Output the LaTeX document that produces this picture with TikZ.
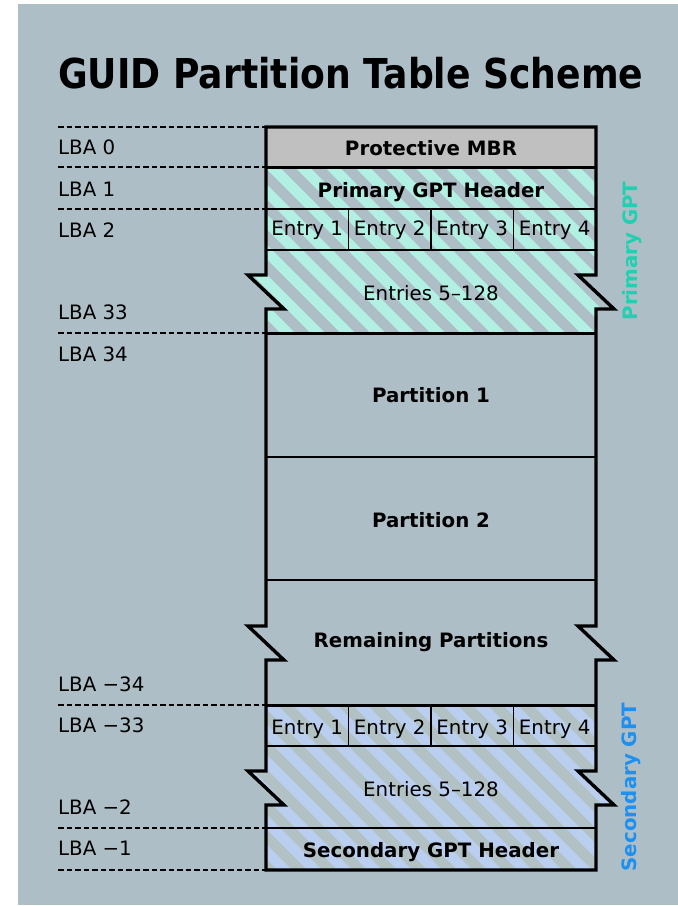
\documentclass[tikz,border=0pt]{standalone}
\usepackage{graphicx}
\usepackage{fontspec}
\setmainfont{DejaVu Sans}
\definecolor{panel}{RGB}{174,190,198}
\definecolor{mbrgray}{RGB}{192,192,192}
\definecolor{tealfill}{RGB}{178,240,228}
\definecolor{bluefill}{RGB}{186,207,240}
\definecolor{bluestripe}{RGB}{178,193,195}
\definecolor{tealtext}{RGB}{32,208,176}
\definecolor{bluetext}{RGB}{30,144,240}
\begin{document}
\begin{tikzpicture}[x=1pt,y=-1pt,
  outline/.style={line width=3.4pt,line join=miter},
  thickrule/.style={line width=3pt},
  thinrule/.style={line width=1.9pt},
  lbaline/.style={line width=1.4pt,dash pattern=on 5.5pt off 3pt},
  txt/.style={font=\fontsize{19.8}{23}\selectfont,inner sep=0pt,anchor=base},
  boldtxt/.style={font=\bfseries\fontsize{19.8}{23}\selectfont,inner sep=0pt,anchor=base},
  sidetxt/.style={font=\bfseries\fontsize{19.8}{23}\selectfont,inner sep=0pt,rotate=90},
  lba/.style={txt,anchor=base west},
  stripe/.style={line width=10.6pt}
]
\useasboundingbox (0,0) rectangle (678,906);
\fill[white] (0,0) rectangle (678,906);
\fill[panel] (18,4) rectangle (678,905);

% title
\node[font=\bfseries\fontsize{35.8}{40}\selectfont,inner sep=0pt,anchor=base west]
  (title) at (58,88) {\scalebox{1.01}[1.15]{GUID Partition Table Scheme}};

% protective MBR
\fill[mbrgray] (266,127) rectangle (596,167);

% primary GPT, hatched
\begin{scope}
  \clip (266,167) -- (596,167) -- (596,275) -- (578,275) -- (614,309) -- (596,309)
        -- (596,333) -- (266,333) -- (266,309) -- (284,309) -- (248,275) -- (266,275) -- cycle;
  \fill[tealfill] (240,160) rectangle (620,340);
  \foreach \s in {30,60,...,660} \draw[stripe,panel] (\s,150) -- ++(200,200);
\end{scope}

% secondary GPT, hatched
\begin{scope}
  \clip (266,705) -- (596,705) -- (596,771) -- (578,771) -- (614,805) -- (596,805)
        -- (596,870) -- (266,870) -- (266,805) -- (284,805) -- (248,771) -- (266,771) -- cycle;
  \fill[bluefill] (240,700) rectangle (620,880);
  \foreach \s in {40,70,...,660} \draw[stripe,bluestripe] (\s,700) -- ++(180,180);
\end{scope}

% block boundaries
\draw[thickrule] (266,167) -- (596,167);
\draw[thinrule] (266,209) -- (596,209);
\draw[thinrule] (266,250) -- (596,250);
\draw[thickrule] (266,333) -- (596,333);
\draw[thinrule] (266,457) -- (596,457);
\draw[thinrule] (266,580) -- (596,580);
\draw[thickrule] (266,705) -- (596,705);
\draw[thinrule] (266,746) -- (596,746);
\draw[thinrule] (266,828) -- (596,828);
\foreach \x in {348.5,431,513.5} {
  \draw[thinrule] (\x,209) -- (\x,250);
  \draw[thinrule] (\x,705) -- (\x,746);
}

% disk outline with break marks
\draw[outline] (266,127) -- (596,127)
  -- (596,275) -- (578,275) -- (614,309) -- (596,309)
  -- (596,626) -- (578,626) -- (614,660) -- (596,660)
  -- (596,771) -- (578,771) -- (614,805) -- (596,805)
  -- (596,870) -- (266,870)
  -- (266,805) -- (284,805) -- (248,771) -- (266,771)
  -- (266,660) -- (284,660) -- (248,626) -- (266,626)
  -- (266,309) -- (284,309) -- (248,275) -- (266,275) -- cycle;

% block labels (placed on their baselines)
\node[boldtxt] (mbr) at (431,155) {Protective MBR};
\node[boldtxt] (pheader) at (431,197) {Primary GPT Header};
\node[txt] (pe1) at (307.25,235) {Entry 1};
\node[txt] (pe2) at (389.75,235) {Entry 2};
\node[txt] (pe3) at (472.25,235) {Entry 3};
\node[txt] (pe4) at (554.75,235) {Entry 4};
\node[txt] (prest) at (431,300) {Entries 5–128};
\node[boldtxt] (part1) at (431,402) {Partition 1};
\node[boldtxt] (part2) at (431,527) {Partition 2};
\node[boldtxt] (remaining) at (431,647) {Remaining Partitions};
\node[txt] (se1) at (307.25,734) {Entry 1};
\node[txt] (se2) at (389.75,734) {Entry 2};
\node[txt] (se3) at (472.25,734) {Entry 3};
\node[txt] (se4) at (554.75,734) {Entry 4};
\node[txt] (srest) at (431,796) {Entries 5–128};
\node[boldtxt] (sheader) at (431,857) {Secondary GPT Header};

% side captions
\node[sidetxt,text=tealtext] (primary) at (632,251) {Primary GPT};
\node[sidetxt,text=bluetext] (secondary) at (631,787) {Secondary GPT};

% LBA markers
\foreach \n/\y in {m0/127,m1/167,m2/209,m34/333,mn34/705,mn2/828,mn1/870} {
  \coordinate (\n-a) at (58,\y);
  \coordinate (\n-b) at (266,\y);
  \draw[lbaline] (\n-a) -- (\n-b);
}
\node[lba] (lba0) at (58,154) {LBA 0};
\node[lba] (lba1) at (58,196) {LBA 1};
\node[lba] (lba2) at (58,237) {LBA 2};
\node[lba] (lba33) at (58,319) {LBA 33};
\node[lba] (lba34) at (58,361) {LBA 34};
\node[lba] (lban34) at (58,691) {LBA −34};
\node[lba] (lban33) at (58,732) {LBA −33};
\node[lba] (lban2) at (58,814) {LBA −2};
\node[lba] (lban1) at (58,855) {LBA −1};
\end{tikzpicture}
\end{document}
